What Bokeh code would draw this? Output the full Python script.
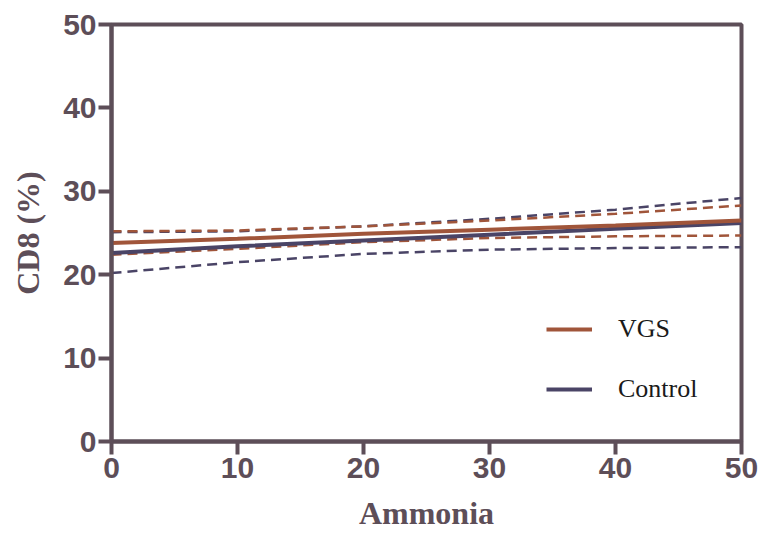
from bokeh.plotting import figure
from bokeh.models import Range1d, Legend, LegendItem, FixedTicker
from bokeh.embed import file_html
from bokeh.resources import INLINE

# Data
ammonia = [0, 10, 20, 30, 40, 50]
vgs_fit = [23.8, 24.3, 24.9, 25.4, 25.9, 26.5]
vgs_upper = [25.2, 25.3, 25.8, 26.5, 27.3, 28.3]
vgs_lower = [22.4, 23.1, 23.9, 24.4, 24.6, 24.7]
ctrl_fit = [22.6, 23.4, 24.1, 24.8, 25.5, 26.2]
ctrl_upper = [25.1, 25.2, 25.8, 26.7, 27.8, 29.2]
ctrl_lower = [20.2, 21.5, 22.5, 23.0, 23.2, 23.3]
x_ticks = [0, 10, 20, 30, 40, 50]
y_ticks = [0, 10, 20, 30, 40, 50]
series_names = ["VGS", "Control"]

VGS_C = "#a0553a"
CTRL_C = "#4a4466"
AXIS_C = "#5d4e58"

p = figure(width=763, height=535, output_backend="svg", toolbar_location=None,
           x_range=Range1d(0, 50), y_range=Range1d(0, 50),
           min_border_left=111, min_border_right=22, min_border_top=24, min_border_bottom=94)
p.grid.visible = False
p.background_fill_color = "white"
p.border_fill_color = "white"
p.outline_line_color = AXIS_C
p.outline_line_width = 4

# Confidence bands (dashed)
p.line(ammonia, ctrl_upper, line_color=CTRL_C, line_width=2.5, line_dash="10 6")
p.line(ammonia, ctrl_lower, line_color=CTRL_C, line_width=2.5, line_dash="10 6")
p.line(ammonia, vgs_upper, line_color=VGS_C, line_width=2.5, line_dash="10 6")
p.line(ammonia, vgs_lower, line_color=VGS_C, line_width=2.5, line_dash="10 6")

# Fitted lines
r_ctrl = p.line(ammonia, ctrl_fit, line_color=CTRL_C, line_width=4)
r_vgs = p.line(ammonia, vgs_fit, line_color=VGS_C, line_width=4)

for ax, ticks in ((p.xaxis[0], x_ticks), (p.yaxis[0], y_ticks)):
    ax.ticker = FixedTicker(ticks=ticks)
    ax.axis_line_color = AXIS_C
    ax.axis_line_width = 4
    ax.major_tick_line_color = AXIS_C
    ax.major_tick_line_width = 4
    ax.major_tick_out = 13
    ax.major_tick_in = 0
    ax.minor_tick_line_color = None
    ax.major_label_text_font = "Liberation Sans"
    ax.major_label_text_font_style = "bold"
    ax.major_label_text_font_size = "30px"
    ax.major_label_text_color = AXIS_C
    ax.axis_label_text_font = "Liberation Serif"
    ax.axis_label_text_font_style = "bold"
    ax.axis_label_text_font_size = "32px"
    ax.axis_label_text_color = AXIS_C
    ax.axis_label_standoff = 14

p.xaxis.axis_label = "Ammonia"
p.yaxis.axis_label = "CD8 (%)"
p.xaxis.major_label_standoff = 3
p.yaxis.major_label_standoff = 2

legend = Legend(items=[LegendItem(label=series_names[0], renderers=[r_vgs]),
                       LegendItem(label=series_names[1], renderers=[r_ctrl])],
                location=(435, 37), orientation="vertical")
legend.background_fill_alpha = 0
legend.border_line_color = None
legend.padding = 0
legend.margin = 0
legend.spacing = 30
legend.glyph_width = 46
legend.glyph_height = 30
legend.label_height = 30
legend.label_standoff = 26
legend.label_text_font = "Liberation Serif"
legend.label_text_font_size = "26px"
legend.label_text_color = "#1a1a1a"
p.add_layout(legend, "center")

open("out.html", "w").write(file_html(p, INLINE))
